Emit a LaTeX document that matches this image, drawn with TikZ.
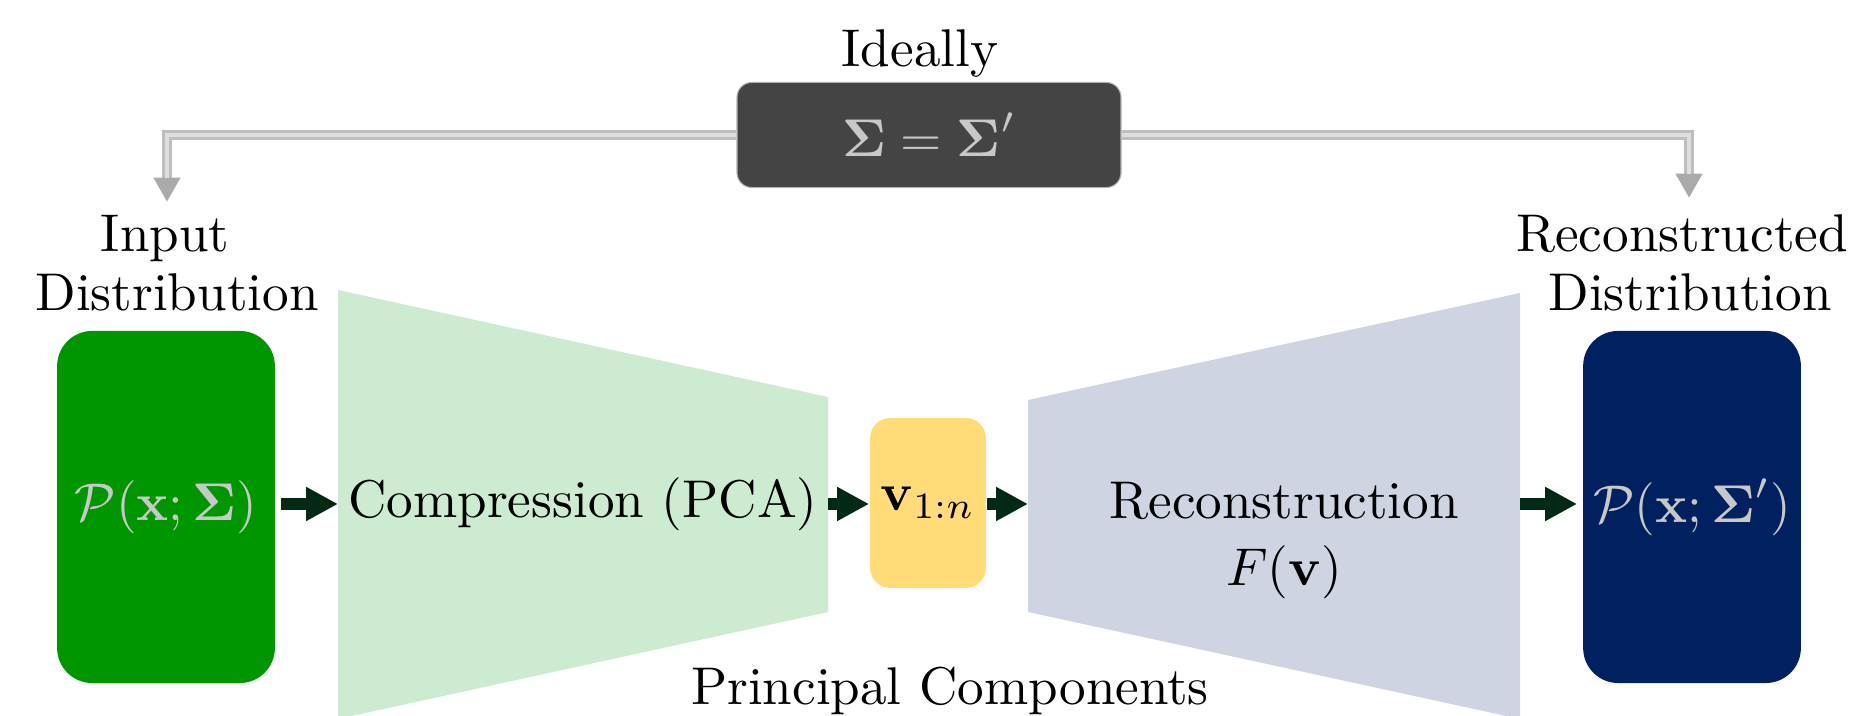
\documentclass[tikz,border=0pt]{standalone}
\usepackage{amsmath}
\usetikzlibrary{arrows.meta}
\definecolor{boxgreen}{RGB}{0,150,0}
\definecolor{boxnavy}{RGB}{0,32,96}
\definecolor{compfill}{RGB}{205,235,208}
\definecolor{recfill}{RGB}{206,212,226}
\definecolor{pcfill}{RGB}{255,220,120}
\definecolor{idealfill}{RGB}{68,68,68}
\definecolor{arrowcol}{RGB}{0,42,20}
\definecolor{lighttext}{RGB}{200,200,200}
\definecolor{connout}{RGB}{190,190,190}
\definecolor{connin}{RGB}{222,222,222}
\definecolor{conntip}{RGB}{170,170,170}
\tikzset{
  distbox/.style={rounded corners=6.6pt, minimum width=41pt, minimum height=66.3pt, inner sep=0pt, text=lighttext},
  pcbox/.style={rounded corners=3.8pt, fill=pcfill, minimum width=21.8pt, minimum height=32pt, inner sep=0pt},
  idealbox/.style={rounded corners=2.8pt, fill=idealfill, draw=gray!60, line width=0.2pt, minimum width=72.3pt, minimum height=19.8pt, inner sep=0pt, text=lighttext},
  flowarrow/.style={draw=arrowcol, line width=2.26pt, -{Triangle[length=6pt,width=6pt]}},
  connouter/.style={draw=connout, line width=1.9pt, -{Triangle[length=4.6pt,width=4.8pt,fill=conntip,color=conntip]}},
  conninner/.style={draw=connin, line width=0.7pt, shorten >=4.6pt},
  lbl/.style={inner sep=0pt, align=center}
}
\begin{document}
\begin{tikzpicture}[x=0.1883pt, y=-0.1883pt, font=\fontsize{10}{11}\selectfont]
\useasboundingbox (0,0) rectangle (1854,716);
% trapezoids
\fill[compfill] (338,290) -- (828,397) -- (828,612) -- (338,719) -- cycle;
\fill[recfill] (1028,400) -- (1520,293) -- (1520,719) -- (1028,612) -- cycle;
\coordinate (compL) at (338,504);
\coordinate (compR) at (828,504);
\coordinate (recL) at (1028,504);
\coordinate (recR) at (1520,504);
% boxes
\node[distbox, fill=boxgreen] (inbox) at (166,507) {$\mathcal{P}(\mathbf{x};\boldsymbol{\Sigma})$};
\node[distbox, fill=boxnavy] (outbox) at (1692,507) {$\mathcal{P}(\mathbf{x};\boldsymbol{\Sigma}')$};
\node[pcbox] (pc) at (928,503) {$\mathbf{v}_{1:n}$};
\node[idealbox] (ideal) at (929,135) {$\boldsymbol{\Sigma}=\boldsymbol{\Sigma}'$};
% labels
\node[lbl, anchor=base] (ideallbl) at (920,67) {Ideally};
\node[lbl, anchor=south] (inlbl) at (177,312) {Input\kern4.5pt\\Distribution};
\node[lbl, anchor=south] (outlbl) at (1690,312) {Reconstructed\kern3pt\\Distribution};
\node[lbl, anchor=base] (comptext) at (583,518) {Compression (PCA)};
\node[lbl, anchor=south] (rectext) at (1284,600) {Reconstruction\\[1.6pt]$F(\mathbf{v})$};
\node[lbl, anchor=base] (pclbl) at (950,705) {Principal Components};
% flow arrows
\path (inbox.east |- compL) ++(5,0) coordinate (a1s);
\draw[flowarrow] (a1s) -- (compL);
\draw[flowarrow] (compR) -- (pc.west |- compR);
\draw[flowarrow] (pc.east |- recL) -- (recL);
\path (outbox.west |- recR) ++(-5,0) coordinate (a4e);
\draw[flowarrow] (recR) -- (a4e);
% gray connectors
\coordinate (tipL) at (167,202);
\coordinate (tipR) at (1689,198);
\draw[connouter] (ideal.west) -| (tipL);
\draw[conninner] (ideal.west) -| (tipL);
\draw[connouter] (ideal.east) -| (tipR);
\draw[conninner] (ideal.east) -| (tipR);
\end{tikzpicture}
\end{document}
